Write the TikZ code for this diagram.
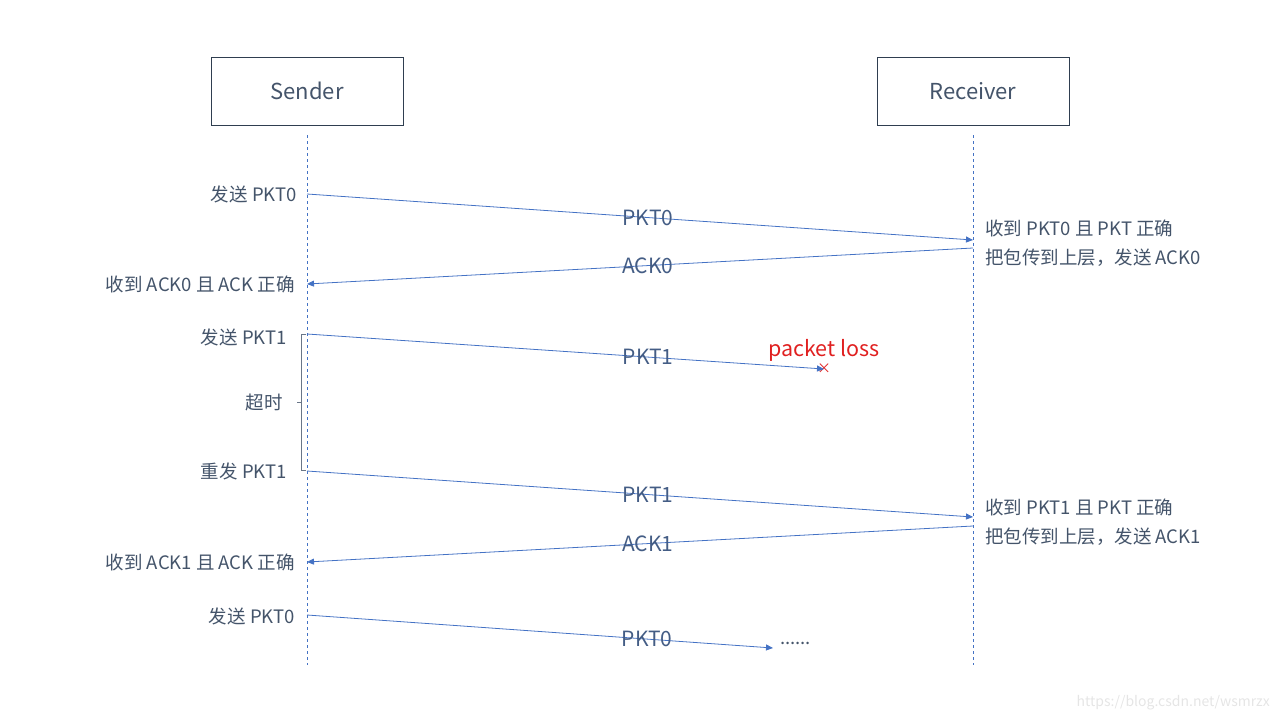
\documentclass[tikz,border=0pt]{standalone}
\usepackage{fontspec}
\setmainfont{Noto Sans CJK SC}
\usetikzlibrary{arrows.meta,positioning}
\definecolor{lineblue}{HTML}{4472C4}
\definecolor{txtgray}{HTML}{44546A}
\definecolor{boxedge}{HTML}{2F3E50}
\definecolor{lossred}{HTML}{E02020}
\def\sx{307}
\def\rx{973}

\tikzset{
  actor/.style={draw=boxedge, line width=0.8pt, minimum width=192pt, minimum height=68pt,
    text=txtgray, font=\fontsize{22}{26}\selectfont},
  life/.style={lineblue, dashed, line width=0.7pt},
  msg/.style={lineblue, line width=0.8pt, -{Triangle[length=7pt,width=6pt]}},
  msglabel/.style={text=txtgray!70!lineblue, font=\fontsize{21}{24}\selectfont, inner sep=0pt},
  note/.style={text=txtgray, font=\fontsize{18.5}{21}\selectfont, inner sep=0pt}
}

\begin{document}
\begin{tikzpicture}[x=1pt,y=-1pt]
\useasboundingbox (0,0) rectangle (1280,720);
% the two actors
\node[actor] (sender) at (\sx,91) {Sender};
\node[actor] (receiver) at (\rx,91) {Receiver};
% the lifelines
\coordinate (sEnd) at (\sx,665);
\coordinate (rEnd) at (\rx,665);
\draw[life] ([yshift=-10pt]sender.south) -- (sEnd);
\draw[life] ([yshift=-10pt]receiver.south) -- (rEnd);
% first round: PKT0 and ACK0
\coordinate (s1) at (\sx,194);
\coordinate (r1) at (\rx,240);
\coordinate (r2) at (\rx,248);
\coordinate (s2) at (\sx,284);
\draw[msg] (s1) -- node[msglabel, pos=0.512] {PKT0} (r1);
\draw[msg] (r2) -- node[msglabel, pos=0.488] {ACK0} (s2);
\node[note, anchor=east] (sendA) at (297,194) {发送 PKT0};
\node[note, anchor=east] (recvA) at (295,284) {收到 ACK0 且 ACK 正确};
\node[note, anchor=west] (gotA) at (985,228) {收到 PKT0 且 PKT 正确};
\node[note, anchor=west] (upA) at (985,258) {把包传到上层，发送 ACK0};
% second round: PKT1 is lost
\coordinate (s3) at (\sx,334);
\node[text=lossred, font=\fontsize{14}{14}\selectfont, inner sep=0pt] (loss) at (824,369) {×};
\draw[msg] (s3) -- node[msglabel, pos=0.66] {PKT1} (loss.center);
\node[text=lossred, font=\fontsize{21.5}{24}\selectfont, inner sep=0pt, above=2pt of loss] (losstxt) {packet loss};
\node[note, anchor=east] (sendB) at (287,337) {发送 PKT1};
% the timeout bracket
\coordinate (b1) at (306,334);
\coordinate (b2) at (306,470);
\draw[txtgray!80, line width=0.8pt] (b1) -- (301,334) -- (301,470) -- (b2);
\draw[txtgray!80, line width=0.8pt] (301,402) -- (297,402);
\node[note, anchor=east] (timeout) at (283,402) {超时};
% resend PKT1 and ACK1
\coordinate (s4) at (\sx,471);
\coordinate (r4) at (\rx,517);
\coordinate (r5) at (\rx,526);
\coordinate (s5) at (\sx,562);
\draw[msg] (s4) -- node[msglabel, pos=0.512] {PKT1} (r4);
\draw[msg] (r5) -- node[msglabel, pos=0.488] {ACK1} (s5);
\node[note, anchor=east] (sendC) at (287,471) {重发 PKT1};
\node[note, anchor=east] (recvC) at (295,562) {收到 ACK1 且 ACK 正确};
\node[note, anchor=west] (gotC) at (985,507) {收到 PKT1 且 PKT 正确};
\node[note, anchor=west] (upC) at (985,537) {把包传到上层，发送 ACK1};
% next PKT0
\coordinate (s6) at (\sx,615);
\coordinate (r6) at (773,648);
\draw[msg] (s6) -- node[msglabel, pos=0.73] {PKT0} (r6);
\node[note, anchor=west] (more) at (780,643) {......};
\node[note, anchor=east] (sendD) at (295,616) {发送 PKT0};
% watermark
\node[text=black!10, font=\fontsize{14}{16}\selectfont, anchor=east, inner sep=0pt] (mark) at (1270,703) {https://blog.csdn.net/wsmrzx};
\end{tikzpicture}
\end{document}
